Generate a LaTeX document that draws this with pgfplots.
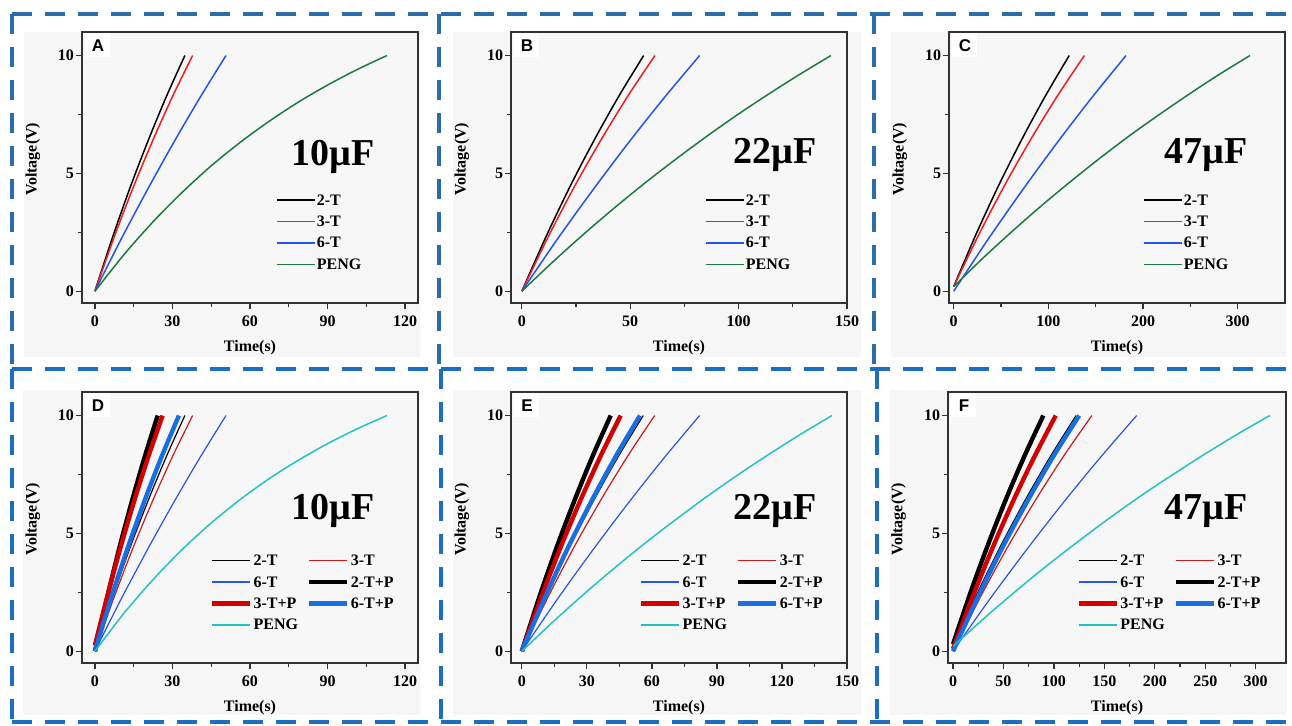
\documentclass[border=0pt]{standalone}
\usepackage{pgfplots}
\pgfplotsset{compat=1.18}
\usepackage{fontspec}
\setmainfont{Liberation Serif}
\newfontfamily\sansfam{Liberation Sans}

\definecolor{plotbg}{RGB}{247,247,247}
\definecolor{panelbg}{RGB}{246,246,246}
\definecolor{axisgray}{RGB}{50,50,50}
\definecolor{dashtop}{RGB}{45,108,170}
\definecolor{dashbot}{RGB}{28,110,195}
\definecolor{tred}{RGB}{240,30,30}
\definecolor{tblue}{RGB}{35,85,235}
\definecolor{tgreen}{RGB}{30,120,65}
\definecolor{bred}{RGB}{205,25,25}
\definecolor{bblue}{RGB}{40,85,225}
\definecolor{pred}{RGB}{210,0,0}
\definecolor{pblue}{RGB}{25,110,225}
\definecolor{tcyan}{RGB}{35,195,195}

\tikzset{
  panelletter/.style={fill=white, inner sep=0pt, minimum width=12.5pt, minimum height=12pt, anchor=north west, font=\sansfam\bfseries\fontsize{8.5}{9}\selectfont},
  captext/.style={font=\bfseries\fontsize{19}{20}\selectfont},
  dashln/.style={line width=2.2pt, dash pattern=on 10pt off 6.5pt},
}

\pgfplotsset{
  panel/.style={
    scale only axis, width=168pt, height=135.5pt,
    anchor=south west,
    ymin=-0.5, ymax=11, ytick={0,5,10}, minor y tick num=1,
    minor x tick num=1,
    tick align=outside, tick pos=left,
    major tick length=3pt, minor tick length=1.8pt,
    axis line style={draw=axisgray, line width=0.6pt},
    every tick/.style={axisgray, line width=0.6pt},
    axis background/.style={fill=plotbg},
    ticklabel style={font=\bfseries\fontsize{8}{9}\selectfont},
    yticklabel style={inner sep=0.8pt},
    /pgf/number format/assume math mode=true,
    xlabel={Time(s)}, ylabel={Voltage(V)},
    label style={font=\bfseries\fontsize{8}{9}\selectfont},
    xlabel style={at={(axis description cs:0.5,-0.166)}, anchor=center},
    ylabel style={at={(axis description cs:-0.146,0.53)}, anchor=center},
    legend cell align=left,
    legend image code/.code={\draw[##1] (0pt,0pt) -- (19pt,0pt);},
    legend style={draw=none, fill=none, inner sep=0pt, outer sep=0pt,
      font=\bfseries\fontsize{8}{9}\selectfont,
      nodes={inner sep=0.6pt, text height=6pt, text depth=1pt},
      row sep=2.5pt},
  },
  toprow/.style={legend style={at={(0.578,0.41)}, anchor=north west}},
  botrow/.style={legend columns=2,
    legend style={at={(0.381,0.408)}, anchor=north west, /tikz/column 2/.style={column sep=4pt}}},
}

\begin{document}
\begin{tikzpicture}
\useasboundingbox (0,0) rectangle (646pt,363pt);
\fill[white] (0,0) rectangle (646pt,363pt);
% panel backgrounds
\fill[panelbg] (12pt,184.5pt) rectangle (210pt,347pt);
\fill[panelbg] (226.5pt,184.5pt) rectangle (430.5pt,347pt);
\fill[panelbg] (445.5pt,184.5pt) rectangle (643pt,347pt);
\fill[panelbg] (11.5pt,5.5pt) rectangle (210pt,168pt);
\fill[panelbg] (226.5pt,5.5pt) rectangle (430.5pt,168pt);
\fill[panelbg] (445pt,5.5pt) rectangle (643.5pt,168pt);
% dashed frames
\draw[dashtop, dashln] (6pt,356pt) -- (646pt,356pt);
\draw[dashtop, dashln] (6pt,356pt) -- (6pt,178.5pt);
\draw[dashtop, dashln] (219.5pt,356pt) -- (219.5pt,178.5pt);
\draw[dashtop, dashln] (437pt,356pt) -- (437pt,178.5pt);
\draw[dashbot, dashln] (6pt,178.5pt) -- (646pt,178.5pt);
\draw[dashbot, dashln] (6pt,178.5pt) -- (6pt,2pt);
\draw[dashbot, dashln] (220.5pt,178.5pt) -- (220.5pt,2pt);
\draw[dashbot, dashln] (438.5pt,178.5pt) -- (438.5pt,2pt);
\draw[dashbot, dashln] (6pt,2pt) -- (646pt,2pt);

% ---------------- A
\begin{axis}[panel, toprow, at={(41pt,211.5pt)}, xmin=-5, xmax=125, xtick={0,30,60,90,120},
  legend entries={2-T,3-T,6-T,PENG}]
\addplot[black, line width=0.75pt, smooth] coordinates {(0,0) (6.96,2.33) (13.92,4.49) (20.88,6.47) (27.84,8.31) (34.8,10)};
\addplot[tred, line width=0.75pt, smooth] coordinates {(0,0) (7.56,2.33) (15.12,4.49) (22.68,6.47) (30.24,8.31) (37.8,10)};
\addplot[tblue, line width=0.75pt, smooth] coordinates {(0,0) (10.14,2.21) (20.28,4.30) (30.42,6.30) (40.56,8.20) (50.7,10)};
\addplot[tgreen, line width=0.75pt, smooth] coordinates {(0,0) (11.3,1.56) (22.6,2.96) (33.9,4.21) (45.2,5.34) (56.5,6.34) (67.8,7.24) (79.1,8.05) (90.4,8.77) (101.7,9.42) (113,10)};
\node[panelletter] at (rel axis cs:0.009,0.996) {A};
\node[captext] at (rel axis cs:0.747,0.54) {10µF};
\end{axis}

% ---------------- B
\begin{axis}[panel, toprow, at={(255.5pt,211.5pt)}, xmin=-5, xmax=150, xtick={0,50,100,150},
  legend entries={2-T,3-T,6-T,PENG}]
\addplot[black, line width=0.75pt, smooth] coordinates {(0,0) (11.24,2.33) (22.48,4.49) (33.72,6.47) (44.96,8.31) (56.2,10)};
\addplot[tred, line width=0.75pt, smooth] coordinates {(0,0) (12.28,2.33) (24.56,4.49) (36.84,6.47) (49.12,8.31) (61.4,10)};
\addplot[tblue, line width=0.75pt, smooth] coordinates {(0,0) (16.4,2.21) (32.8,4.30) (49.2,6.30) (65.6,8.20) (82,10)};
\addplot[tgreen, line width=0.75pt, smooth] coordinates {(0,0) (14.26,1.24) (28.52,2.42) (42.78,3.54) (57.04,4.61) (71.3,5.62) (85.56,6.59) (99.82,7.51) (114.08,8.38) (128.34,9.21) (142.6,10)};
\node[panelletter] at (rel axis cs:0.009,0.996) {B};
\node[captext] at (rel axis cs:0.786,0.547) {22µF};
\end{axis}

% ---------------- C
\begin{axis}[panel, toprow, at={(474.5pt,211.5pt)}, xmin=-5, xmax=350, xtick={0,100,200,300},
  legend entries={2-T,3-T,6-T,PENG}]
\addplot[black, line width=0.75pt, smooth] coordinates {(0,0.2) (24.4,2.49) (48.8,4.60) (73.2,6.54) (97.6,8.34) (122,10)};
\addplot[tred, line width=0.75pt, smooth] coordinates {(0,0.2) (27.6,2.49) (55.2,4.60) (82.8,6.54) (110.4,8.34) (138,10)};
\addplot[tblue, line width=0.75pt, smooth] coordinates {(0,0) (36.4,2.21) (72.8,4.30) (109.2,6.30) (145.6,8.20) (182,10)};
\addplot[tgreen, line width=0.75pt, smooth] coordinates {(0,0.2) (31.3,1.42) (62.6,2.57) (93.9,3.67) (125.2,4.71) (156.5,5.71) (187.8,6.66) (219.1,7.55) (250.4,8.41) (281.7,9.23) (313,10)};
\node[panelletter] at (rel axis cs:0.009,0.996) {C};
\node[captext] at (rel axis cs:0.765,0.547) {47µF};
\end{axis}

% ---------------- D
\begin{axis}[panel, botrow, at={(41pt,31.5pt)}, xmin=-5, xmax=125, xtick={0,30,60,90,120},
  legend entries={2-T,3-T,6-T,2-T+P,3-T+P,6-T+P,PENG}]
\addplot[black, line width=0.6pt, smooth] coordinates {(0,0) (6.96,2.33) (13.92,4.49) (20.88,6.47) (27.84,8.31) (34.8,10)};
\addplot[bred, line width=0.6pt, smooth] coordinates {(0,0) (7.56,2.33) (15.12,4.49) (22.68,6.47) (30.24,8.31) (37.8,10)};
\addplot[bblue, line width=0.6pt, smooth] coordinates {(0,0) (10.14,2.21) (20.28,4.30) (30.42,6.30) (40.56,8.20) (50.7,10)};
\addplot[black, line width=2.2pt, smooth] coordinates {(0,0) (4.86,2.33) (9.72,4.49) (14.58,6.47) (19.44,8.31) (24.3,10)};
\addplot[pred, line width=2.2pt, smooth] coordinates {(0,0.25) (5.24,2.52) (10.48,4.62) (15.72,6.56) (20.96,8.35) (26.2,10)};
\addplot[pblue, line width=2.2pt, smooth] coordinates {(0,0) (6.5,2.33) (13,4.49) (19.5,6.47) (26,8.31) (32.5,10)};
\addplot[tcyan, line width=0.75pt, smooth] coordinates {(0,0) (11.3,1.62) (22.6,3.05) (33.9,4.33) (45.2,5.46) (56.5,6.46) (67.8,7.35) (79.1,8.13) (90.4,8.83) (101.7,9.45) (113,10)};
\node[panelletter] at (rel axis cs:0.009,0.996) {D};
\node[captext] at (rel axis cs:0.747,0.56) {10µF};
\end{axis}

% ---------------- E
\begin{axis}[panel, botrow, at={(255.5pt,31.5pt)}, xmin=-5, xmax=150, xtick={0,30,60,90,120,150},
  legend entries={2-T,3-T,6-T,2-T+P,3-T+P,6-T+P,PENG}]
\addplot[black, line width=0.6pt, smooth] coordinates {(0,0) (11.2,2.33) (22.4,4.49) (33.6,6.47) (44.8,8.31) (56,10)};
\addplot[bred, line width=0.6pt, smooth] coordinates {(0,0) (12.26,2.33) (24.52,4.49) (36.78,6.47) (49.04,8.31) (61.3,10)};
\addplot[bblue, line width=0.6pt, smooth] coordinates {(0,0) (16.4,2.21) (32.8,4.30) (49.2,6.30) (65.6,8.20) (82,10)};
\addplot[black, line width=2.2pt, smooth] coordinates {(0,0) (8.2,2.33) (16.4,4.49) (24.6,6.47) (32.8,8.31) (41,10)};
\addplot[pred, line width=2.2pt, smooth] coordinates {(0,0) (9.12,2.33) (18.24,4.49) (27.36,6.47) (36.48,8.31) (45.6,10)};
\addplot[pblue, line width=2.2pt, smooth] coordinates {(0,0) (10.9,2.33) (21.8,4.49) (32.7,6.47) (43.6,8.31) (54.5,10)};
\addplot[tcyan, line width=0.75pt, smooth] coordinates {(0,0) (14.3,1.24) (28.6,2.42) (42.9,3.54) (57.2,4.61) (71.5,5.62) (85.8,6.59) (100.1,7.51) (114.4,8.38) (128.7,9.21) (143,10)};
\node[panelletter] at (rel axis cs:0.009,0.996) {E};
\node[captext] at (rel axis cs:0.786,0.56) {22µF};
\end{axis}

% ---------------- F
\begin{axis}[panel, botrow, at={(474pt,31.5pt)}, width=169pt, xmin=-5, xmax=330, xtick={0,50,100,150,200,250,300},
  legend entries={2-T,3-T,6-T,2-T+P,3-T+P,6-T+P,PENG}]
\addplot[black, line width=0.6pt, smooth] coordinates {(0,0.2) (24.4,2.49) (48.8,4.60) (73.2,6.54) (97.6,8.34) (122,10)};
\addplot[bred, line width=0.6pt, smooth] coordinates {(0,0) (27.52,2.33) (55.04,4.49) (82.56,6.47) (110.08,8.31) (137.6,10)};
\addplot[bblue, line width=0.6pt, smooth] coordinates {(0,0) (36.4,2.21) (72.8,4.30) (109.2,6.30) (145.6,8.20) (182,10)};
\addplot[black, line width=2.2pt, smooth] coordinates {(0,0.3) (17.9,2.56) (35.8,4.65) (53.7,6.58) (71.6,8.36) (89.5,10)};
\addplot[pred, line width=2.2pt, smooth] coordinates {(0,0.1) (20.36,2.41) (40.72,4.54) (61.08,6.51) (81.44,8.32) (101.8,10)};
\addplot[pblue, line width=2.2pt, smooth] coordinates {(0,0) (25,2.33) (50,4.49) (75,6.47) (100,8.31) (125,10)};
\addplot[tcyan, line width=0.75pt, smooth] coordinates {(0,0.2) (31.4,1.42) (62.8,2.57) (94.2,3.67) (125.6,4.71) (157,5.71) (188.4,6.66) (219.8,7.55) (251.2,8.41) (282.6,9.23) (314,10)};
\node[panelletter] at (rel axis cs:0.009,0.996) {F};
\node[captext] at (rel axis cs:0.763,0.56) {47µF};
\end{axis}
\end{tikzpicture}
\end{document}
